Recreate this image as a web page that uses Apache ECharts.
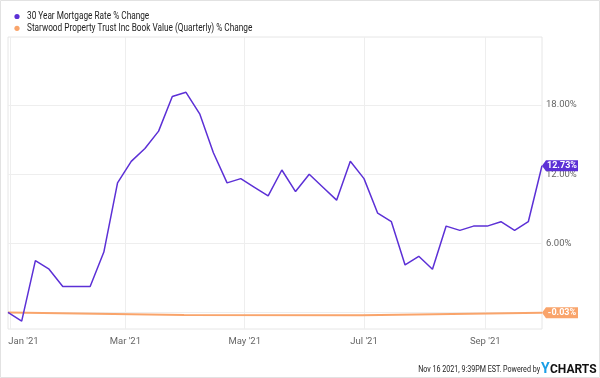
<!DOCTYPE html>
<html>
<head>
<meta charset="utf-8">
<script src="https://cdn.jsdelivr.net/npm/echarts@6/dist/echarts.min.js"></script>
<style>
  html, body { margin: 0; padding: 0; background: #fff; }
  #chart { width: 600px; height: 378px; }
</style>
</head>
<body>
<div id="chart"></div>
<script>
// weekly 30 year mortgage rate, % change since 2020-12-31
const rateDates = [
  '2020-12-31','2021-01-07','2021-01-14','2021-01-21','2021-01-28','2021-02-04','2021-02-11','2021-02-18',
  '2021-02-25','2021-03-04','2021-03-11','2021-03-18','2021-03-25','2021-04-01','2021-04-08','2021-04-15',
  '2021-04-22','2021-04-29','2021-05-06','2021-05-13','2021-05-20','2021-05-27','2021-06-03','2021-06-10',
  '2021-06-17','2021-06-24','2021-07-01','2021-07-08','2021-07-15','2021-07-22','2021-07-29','2021-08-05',
  '2021-08-12','2021-08-19','2021-08-26','2021-09-02','2021-09-09','2021-09-16','2021-09-23','2021-09-30'
]
const rateValues = [
  0, -0.75, 4.49, 3.75, 2.25, 2.25, 2.25, 5.24,
  11.24, 13.11, 14.23, 15.73, 18.73, 19.10, 17.23, 13.86,
  11.24, 11.61, 10.86, 10.11, 12.36, 10.49, 11.99, 10.86,
  9.74, 13.11, 11.61, 8.61, 7.87, 4.12, 4.87, 3.75,
  7.49, 7.12, 7.49, 7.49, 7.87, 7.12, 7.87, 12.73
]
// quarterly book value, % change
const bookDates  = ['2020-12-31', '2021-03-31', '2021-06-30', '2021-09-30']
const bookValues = [0, -0.22, -0.24, -0.03]

const seriesNames = ['30 Year Mortgage Rate % Change', 'Starwood Property Trust Inc Book Value (Quarterly) % Change']
const yTicks = [0, 6, 12, 18]
const xTicks = ['2021-01-01', '2021-03-01', '2021-05-01', '2021-07-01', '2021-09-01']
const monthNames = ['Jan','Feb','Mar','Apr','May','Jun','Jul','Aug','Sep','Oct','Nov','Dec']

const purple = '#5c30d6'
const orange = '#f9a46b'
const font = 'Roboto, sans-serif'
const squeeze = 0.75   // reference uses a condensed face

const ts = d => Date.UTC(+d.slice(0, 4), +d.slice(5, 7) - 1, +d.slice(8, 10))
const toPairs = (d, v) => d.map((x, i) => [ts(x), v[i]])

function tag (date, value, color) {
  return {
    symbol: 'path://M0,5.5 L4,0 L36,0 L36,11 L4,11 Z',
    symbolSize: [36, 11],
    symbolOffset: [18, 0],
    silent: true,
    itemStyle: { color },
    label: {
      show: true, position: 'inside', offset: [2, 0],
      color: '#fff', fontSize: 9, fontWeight: 'bold', fontFamily: font,
      formatter: value.toFixed(2) + '%'
    },
    data: [{ coord: [ts(date), value] }]
  }
}

// legend rows, drawn as text so it can be narrowed like the reference face
function legendRow (i, color) {
  const y = 16.5 + i * 11.8
  return [
    { type: 'circle', silent: true, shape: { cx: 17, cy: y, r: 2.6 }, style: { fill: color } },
    { type: 'text', silent: true, x: 27, y: y, scaleX: squeeze, originX: 0,
      style: { text: seriesNames[i], fill: '#222', font: '11px ' + font, verticalAlign: 'middle' } }
  ]
}

const ec = echarts.init(document.getElementById('chart'))
ec.setOption({
  animation: false,
  textStyle: { fontFamily: font },
  grid: {
    left: 8, right: 58, top: 37, bottom: 49,
    show: true, borderColor: '#e6e6e6', borderWidth: 1
  },
  xAxis: {
    type: 'value',
    min: ts(rateDates[0]), max: ts(rateDates[rateDates.length - 1]),
    axisLine: { show: false },
    axisTick: { show: false, customValues: xTicks.map(ts) },
    splitLine: { show: true, lineStyle: { color: '#eeeeee' } },
    axisLabel: {
      customValues: xTicks.map(ts),
      color: '#666', fontSize: 9.5, margin: 8, fontFamily: font,
      formatter: v => {
        const d = new Date(v)
        const s = monthNames[d.getUTCMonth()] + " '" + String(d.getUTCFullYear()).slice(2)
        return d.getUTCMonth() === 0 ? '{l|' + s + '}' : s
      },
      rich: { l: { color: '#666', fontSize: 9.5, fontFamily: font, padding: [0, 0, 0, 27] } }
    }
  },
  yAxis: {
    type: 'value', position: 'right',
    min: -1.44, max: 23.9,
    axisLine: { show: false },
    axisTick: { show: false, customValues: yTicks },
    splitLine: { show: true, lineStyle: { color: '#eeeeee' } },
    axisLabel: {
      customValues: yTicks,
      color: '#666', fontSize: 9.5, margin: 4, fontFamily: font,
      verticalAlign: 'middle', padding: [0, 0, 5, 0],
      formatter: v => v.toFixed(2) + '%'
    }
  },
  series: [
    {
      name: seriesNames[0], type: 'line',
      data: toPairs(rateDates, rateValues),
      showSymbol: false, color: purple,
      lineStyle: { width: 1.5, color: purple },
      z: 3,
      markPoint: tag(rateDates[rateDates.length - 1], rateValues[rateValues.length - 1], purple)
    },
    {
      name: seriesNames[1], type: 'line',
      data: toPairs(bookDates, bookValues),
      showSymbol: false, color: orange,
      lineStyle: { width: 2, color: orange },
      z: 2,
      markPoint: tag(bookDates[bookDates.length - 1], bookValues[bookValues.length - 1], orange)
    }
  ],
  graphic: [
    { type: 'rect', silent: true, shape: { x: 0.5, y: 0.5, width: 599, height: 377 },
      style: { fill: 'none', stroke: '#e2e2e2', lineWidth: 1 } },
    ...legendRow(0, purple),
    ...legendRow(1, orange),
    { type: 'text', silent: true, x: 540, y: 370, scaleX: squeeze, originX: 0,
      style: { text: 'Nov 16 2021, 9:39PM EST. Powered by', fill: '#222', font: '9.5px ' + font,
               align: 'right', verticalAlign: 'middle' } },
    { type: 'text', silent: true, x: 541, y: 369,
      style: { text: 'Y', fill: '#1a9ee6', font: 'bold 14px ' + font, verticalAlign: 'middle' } },
    { type: 'text', silent: true, x: 550, y: 369.5,
      style: { text: 'CHARTS', fill: '#111', font: 'bold 12px ' + font, verticalAlign: 'middle' } }
  ]
})
</script>
</body>
</html>
